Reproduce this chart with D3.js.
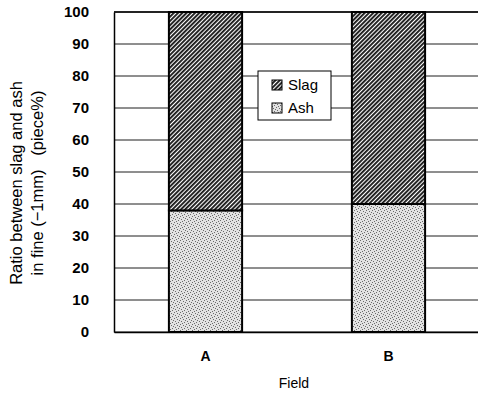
<!DOCTYPE html>
<html>
<head>
<meta charset="utf-8">
<script src="https://cdn.jsdelivr.net/npm/d3@7"></script>
<style>
  body { margin: 0; background: #fff; }
  text { font-family: "Liberation Sans", Arial, sans-serif; fill: #000; }
</style>
</head>
<body>
<div id="chart"></div>
<script>
// Data
const fields = ["A", "B"];
const ash = [38, 40];
const slag = [62, 60];
const yTicks = [0, 10, 20, 30, 40, 50, 60, 70, 80, 90, 100];

// Dimensions
const W = 478, H = 394;
const margin = { top: 12, right: -2, bottom: 62, left: 114 };
const width = W - margin.left - margin.right;
const height = H - margin.top - margin.bottom;

const svg = d3.select("#chart").append("svg")
  .attr("width", W)
  .attr("height", H);

// Patterns
const defs = svg.append("defs");
const hatch = defs.append("pattern")
  .attr("id", "hatch")
  .attr("patternUnits", "userSpaceOnUse")
  .attr("width", 3).attr("height", 3)
  .attr("patternTransform", "rotate(45)");
hatch.append("rect").attr("width", 3).attr("height", 3).attr("fill", "#fff");
hatch.append("rect").attr("width", 1.9).attr("height", 3).attr("fill", "#1a1a1a");

const dots = defs.append("pattern")
  .attr("id", "dots")
  .attr("patternUnits", "userSpaceOnUse")
  .attr("width", 6).attr("height", 6);
dots.append("rect").attr("width", 6).attr("height", 6).attr("fill", "#e2e2e2");
[[0,0],[3,1],[1,3],[4,4],[2,5],[5,2]].forEach(([dx, dy]) => {
  dots.append("rect").attr("x", dx).attr("y", dy).attr("width", 1).attr("height", 1).attr("fill", "#6a6a6a");
});

const g = svg.append("g")
  .attr("transform", `translate(${margin.left},${margin.top})`);

// Scales
const x = d3.scaleBand().domain(fields).range([0, width]).paddingInner(0.6).paddingOuter(0.3);
const y = d3.scaleLinear().domain([0, 100]).range([height, 0]);

// Grid lines
g.append("g")
  .selectAll("line")
  .data(yTicks)
  .join("line")
  .attr("x1", 0).attr("x2", width)
  .attr("y1", d => y(d)).attr("y2", d => y(d))
  .attr("stroke", "#1f1f1f")
  .attr("stroke-width", 1);

// Bars
const stack = fields.map((f, i) => ({ field: f, ash: ash[i], slag: slag[i] }));

g.selectAll(".ash")
  .data(stack)
  .join("rect")
  .attr("class", "ash")
  .attr("x", d => x(d.field))
  .attr("width", x.bandwidth())
  .attr("y", d => y(d.ash))
  .attr("height", d => y(0) - y(d.ash))
  .attr("fill", "url(#dots)")
  .attr("stroke", "#000")
  .attr("stroke-width", 2);

g.selectAll(".slag")
  .data(stack)
  .join("rect")
  .attr("class", "slag")
  .attr("x", d => x(d.field))
  .attr("width", x.bandwidth())
  .attr("y", d => y(d.ash + d.slag))
  .attr("height", d => y(d.ash) - y(d.ash + d.slag))
  .attr("fill", "url(#hatch)")
  .attr("stroke", "#000")
  .attr("stroke-width", 2);

// Y axis
const yAxis = g.append("g")
  .call(d3.axisLeft(y).tickValues(yTicks).tickSize(0).tickPadding(25));
yAxis.select(".domain").attr("stroke", "#000").attr("stroke-width", 1.5);
yAxis.selectAll("text")
  .attr("font-family", null)
  .style("font-size", "15px")
  .style("font-weight", "bold");

// X axis
const xAxis = g.append("g")
  .attr("transform", `translate(0,${height})`)
  .call(d3.axisBottom(x).tickSize(0).tickPadding(19));
xAxis.select(".domain").attr("stroke", "#000").attr("stroke-width", 1.5);
xAxis.selectAll("text")
  .attr("font-family", null)
  .style("font-size", "14px")
  .style("font-weight", "bold");

// Top border
g.append("line")
  .attr("x1", 0).attr("x2", width)
  .attr("y1", 0).attr("y2", 0)
  .attr("stroke", "#000").attr("stroke-width", 1.5);

// Axis titles
svg.append("text")
  .attr("x", 294)
  .attr("y", 388)
  .attr("text-anchor", "middle")
  .style("font-size", "14px")
  .text("Field");

const yTitle = svg.append("text")
  .attr("transform", "translate(0,183) rotate(-90)")
  .attr("text-anchor", "middle")
  .style("font-size", "16.5px");
yTitle.append("tspan").attr("x", 0).attr("y", 22).text("Ratio between slag and ash");
yTitle.append("tspan").attr("x", 0).attr("y", 43).attr("xml:space", "preserve").text("in fine (\u22121mm)   (piece%)");

// Legend
const legend = svg.append("g").attr("transform", "translate(258,71)");
legend.append("rect")
  .attr("width", 73).attr("height", 49)
  .attr("fill", "#fff")
  .attr("stroke", "#000").attr("stroke-width", 1);
const items = [{ label: "Slag", fill: "url(#hatch)" }, { label: "Ash", fill: "url(#dots)" }];
items.forEach((it, i) => {
  legend.append("rect")
    .attr("x", 14).attr("y", 9 + i * 23)
    .attr("width", 10).attr("height", 10)
    .attr("fill", it.fill)
    .attr("stroke", "#000").attr("stroke-width", 1);
  legend.append("text")
    .attr("x", 30).attr("y", 19 + i * 23)
    .style("font-size", "15px")
    .text(it.label);
});
</script>
</body>
</html>
